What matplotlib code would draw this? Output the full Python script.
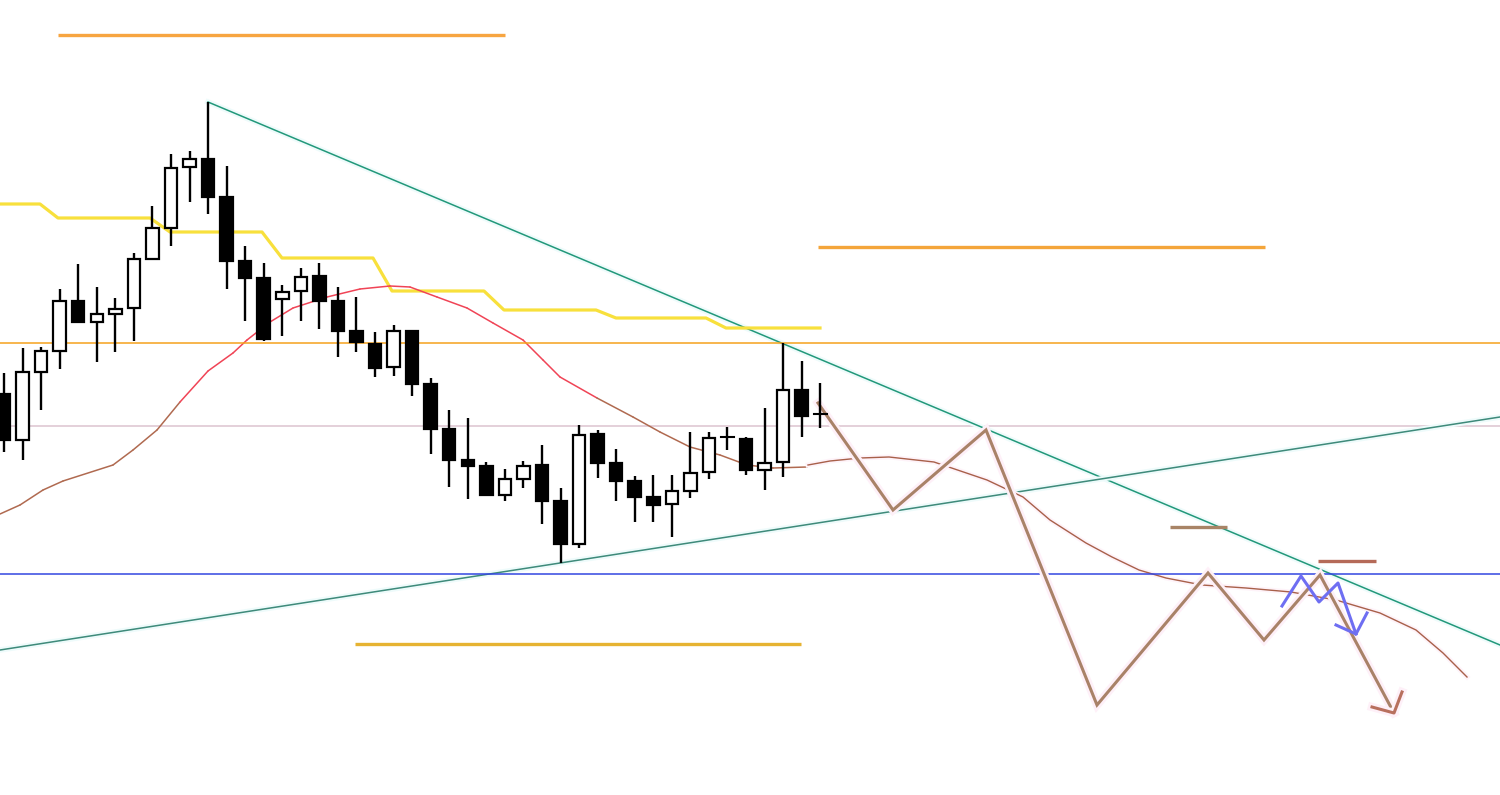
import numpy as np
import matplotlib
matplotlib.use("Agg")
import matplotlib.pyplot as plt
import matplotlib.patheffects as pe

# candles in screen units (smaller = higher price)
body_top = [394, 372, 351, 301, 301, 314, 309, 259, 228, 168, 159, 159, 197, 261, 278,
            292, 277, 276, 301, 331, 344, 331, 331, 384, 429, 460, 466, 479, 466, 465,
            501, 435, 434, 463, 481, 497, 491, 473, 438, 437, 439, 463, 390, 390, 414]
body_bot = [440, 440, 372, 351, 322, 322, 314, 308, 259, 228, 167, 197, 261, 278, 339,
            299, 291, 301, 331, 342, 368, 367, 384, 429, 460, 466, 495, 495, 479, 501,
            544, 544, 463, 481, 497, 505, 504, 491, 472, 437, 470, 470, 462, 416, 414]
wick_top = [373, 348, 347, 289, 264, 287, 298, 253, 206, 154, 151, 102, 166, 246, 263,
            285, 268, 263, 287, 297, 332, 325, 331, 378, 410, 418, 462, 469, 461, 445,
            488, 425, 430, 449, 476, 475, 475, 432, 432, 427, 437, 408, 343, 361, 383]
wick_bot = [452, 460, 410, 369, 322, 362, 352, 341, 259, 246, 202, 214, 289, 321, 341,
            336, 321, 329, 357, 352, 377, 376, 396, 454, 487, 499, 495, 501, 488, 524,
            563, 548, 478, 501, 522, 522, 537, 498, 479, 450, 475, 490, 477, 437, 428]
bullish = [0, 1, 1, 1, 0, 1, 1, 1, 1, 1, 1, 0, 0, 0, 0,
           1, 1, 0, 0, 0, 0, 1, 0, 0, 0, 0, 0, 1, 1, 0,
           0, 1, 0, 0, 0, 0, 1, 1, 1, 1, 0, 1, 1, 0, 1]

# moving average (drawn part) and projected continuation
ma_x = [0, 20, 43, 63, 113, 133, 157, 180, 208, 233, 247, 270, 293, 327, 360, 390, 410,
        437, 467, 493, 523, 543, 560, 597, 633, 660, 690, 720, 747, 773, 807]
ma_y = [514, 505, 490, 481, 465, 450, 430, 402, 371, 353, 340, 322, 308, 297, 289, 286, 287,
        297, 308, 323, 340, 360, 377, 398, 417, 432, 447, 455, 465, 468, 467]
proj_x = [808, 830, 860, 889, 934, 987, 1023, 1050, 1086, 1112, 1139, 1166, 1202, 1246,
          1291, 1336, 1380, 1416, 1443, 1467]
proj_y = [465, 461, 458, 457, 462, 480, 497, 520, 543, 557, 570, 578, 585, 588,
          592, 600, 613, 630, 653, 677]

# step line (base line)
step_x = [0, 40, 58, 150, 170, 262, 282, 373, 392, 484, 504, 596, 616, 706, 726, 820]
step_y = [204, 204, 218, 218, 232, 232, 258, 258, 291, 291, 310, 310, 318, 318, 328, 328]

# scenario zigzags
zig_x = [818, 893, 986, 1097, 1208, 1264, 1320, 1394]
zig_y = [403, 510, 430, 705, 573, 640, 575, 713]
blue_x = [1282, 1301, 1319, 1338, 1356]
blue_y = [606, 576, 602, 583, 634]

# levels
h_orange = 343
h_pink = 426
h_blue = 574
zones = [(58, 505, 35, "#F7A541"), (818, 1265, 247, "#F4A53A"), (355, 801, 644, "#E6B332"),
         (1170, 1227, 527, "#A88466"), (1318, 1376, 561, "#B56A58")]
down_line = [(208, 102), (1500, 645)]
up_line = [(0, 650), (1500, 417)]

fig = plt.figure(figsize=(15, 7.95), dpi=100)
ax = fig.add_axes([0, 0, 1, 1])
ax.set_xlim(0, 1500)
ax.set_ylim(795, 0)
ax.axis("off")

glow = [pe.Stroke(linewidth=6, foreground="#FEF0F8"), pe.Normal()]
thin_glow = [pe.Stroke(linewidth=3.5, foreground="#FEF3F9"), pe.Normal()]
cglow = [pe.Stroke(linewidth=4, foreground="#EEFBFB"), pe.Normal()]

ax.axhline(h_pink, color="#DDC3CF", lw=1.1, zorder=1)
ax.axhline(h_orange, color="#F5A21C", lw=1.1, zorder=4)
ax.axhline(h_blue, color="#3346E0", lw=1.1, zorder=4)

ax.plot(*zip(*down_line), color="#22987A", lw=1.1, zorder=3, path_effects=cglow)
ax.plot(*zip(*up_line), color="#3E8A7A", lw=1.1, zorder=3, path_effects=cglow)

for x0, x1, y, c in zones:
    ax.plot([x0, x1], [y, y], color=c, lw=2.4, solid_capstyle="butt", zorder=4)

ax.plot(step_x, step_y, color="#F8E03C", lw=2.3, zorder=3)

# moving average, brown at the ends and red in the middle
for i in range(len(ma_x) - 1):
    xm = (ma_x[i] + ma_x[i + 1]) / 2
    c = "#F04456" if 170 < xm < 590 else "#B06A50"
    ax.plot(ma_x[i:i + 2], ma_y[i:i + 2], color=c, lw=1.1, zorder=3, solid_capstyle="round")
ax.plot(proj_x, proj_y, color="#A8604A", lw=1.0, zorder=3, path_effects=thin_glow)

# scenario drawings
ax.plot(zig_x, zig_y, color="#A98268", lw=2.2, zorder=5, path_effects=glow,
        solid_joinstyle="miter")
ax.plot([1372, zig_x[-1], 1402], [707, zig_y[-1], 692], color="#B8705E", lw=2.2,
        zorder=5, path_effects=glow)
ax.plot(blue_x, blue_y, color="#6E6EF2", lw=2.2, zorder=8)
ax.plot([1336, blue_x[-1], 1367], [625, blue_y[-1], 613], color="#6E6EF2", lw=2.2, zorder=8)

# candles
xs = 4 + 18.55 * np.arange(len(body_top))
ax.vlines(xs, wick_top, wick_bot, color="black", lw=1.7, zorder=6)
for x, t, b, up in zip(xs, body_top, body_bot, bullish):
    if b - t < 1:
        ax.plot([x - 6.5, x + 6.5], [t, t], color="black", lw=1.5, zorder=7)
    else:
        ax.bar(x, b - t, bottom=t, width=12.5, color="white" if up else "black",
               edgecolor="black", linewidth=1.6, zorder=7)

fig.savefig("out.png", dpi=100, facecolor="white")
